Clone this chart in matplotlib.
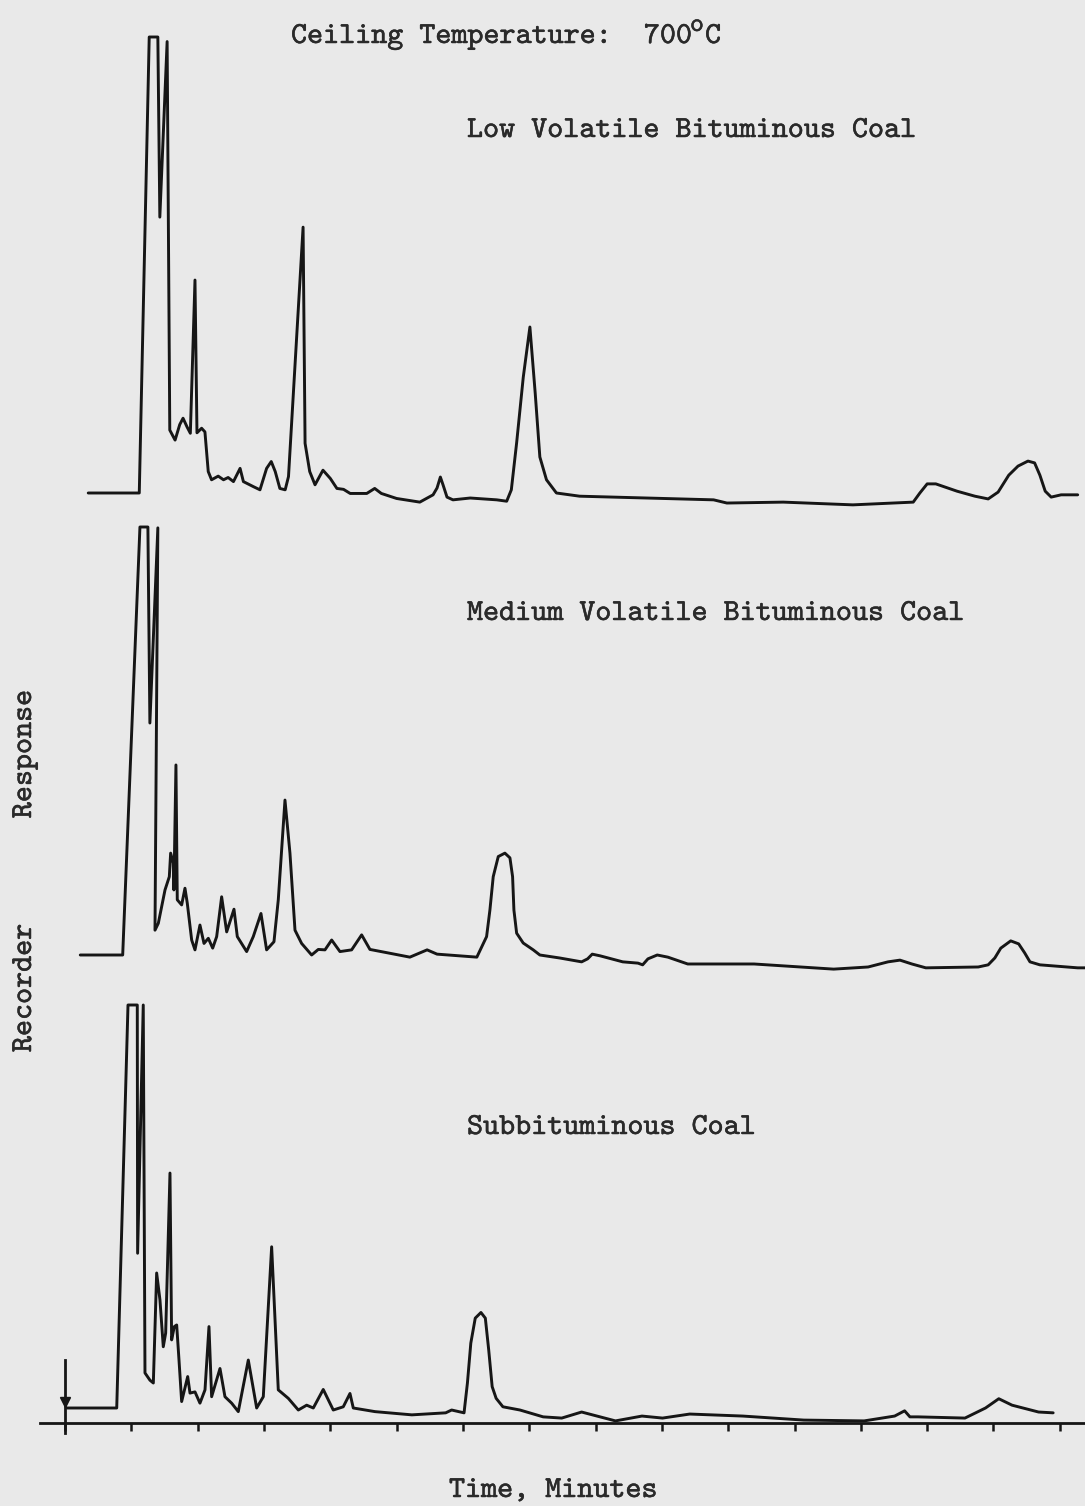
import matplotlib
matplotlib.use("Agg")
import matplotlib.pyplot as plt
import matplotlib.patheffects as pe

# ---------------- data: (time in minutes / chart divisions, response in % of full scale)
lv_points = [
    (0.35, 0), (1.12, 0), (1.27, 100), (1.40, 100), (1.43, 60.5), (1.54, 99), (1.58, 13.8),
    (1.66, 11.6), (1.73, 15.0), (1.78, 16.4), (1.84, 14.5), (1.89, 13.1), (1.96, 46.7),
    (1.99, 13.2), (2.06, 14.2), (2.11, 13.4), (2.16, 4.7), (2.21, 2.9), (2.31, 3.7),
    (2.39, 2.9), (2.46, 3.4), (2.54, 2.5), (2.64, 5.4), (2.69, 2.5), (2.84, 1.4), (2.94, 0.7),
    (3.04, 5.4), (3.11, 6.9), (3.17, 4.7), (3.24, 1.0), (3.32, 0.7), (3.37, 3.6), (3.59, 58.3),
    (3.62, 10.9), (3.69, 4.7), (3.77, 1.8), (3.89, 5.0), (4.00, 3.2), (4.10, 1.0), (4.20, 0.8),
    (4.30, -0.1), (4.55, -0.1), (4.67, 1.0), (4.77, -0.1), (5.00, -1.2), (5.35, -2.0),
    (5.55, -0.4), (5.61, 1.1), (5.66, 3.5), (5.70, 1.8), (5.76, -0.9), (5.85, -1.5),
    (6.11, -1.1), (6.51, -1.5), (6.66, -1.8), (6.73, 0.7), (6.81, 11.0), (6.91, 25.4),
    (7.01, 36.4), (7.09, 21.9), (7.16, 7.9), (7.26, 2.9), (7.41, 0), (7.76, -0.7),
    (9.78, -1.5), (9.98, -2.2), (10.83, -2.0), (11.88, -2.6), (12.79, -2.0), (12.89, 0),
    (13.00, 2.0), (13.13, 2.0), (13.27, 1.3), (13.45, 0.4), (13.72, -0.7), (13.92, -1.3),
    (14.07, 0.2), (14.23, 3.9), (14.37, 5.9), (14.52, 7.0), (14.62, 6.6), (14.70, 3.9),
    (14.78, 0.4), (14.87, -0.9), (15.02, -0.4), (15.27, -0.4)]

mv_points = [
    (0.23, 0), (0.87, 0), (1.13, 100), (1.25, 100), (1.28, 54.2), (1.40, 99.8), (1.357, 5.8),
    (1.407, 7.4), (1.508, 15.2), (1.573, 18.3), (1.593, 23.8), (1.633, 21.5), (1.642, 15.2),
    (1.673, 44.4), (1.693, 12.9), (1.759, 11.7), (1.809, 15.6), (1.844, 12.1), (1.910, 3.5),
    (1.960, 1.2), (2.035, 7.0), (2.096, 2.7), (2.161, 3.9), (2.227, 1.6), (2.287, 4.3),
    (2.362, 13.6), (2.438, 5.4), (2.548, 10.7), (2.598, 4.3), (2.739, 0.8), (2.839, 4.3),
    (2.955, 9.7), (3.040, 1.2), (3.151, 3.1), (3.216, 12.9), (3.317, 36.2), (3.392, 23.8),
    (3.468, 5.8), (3.568, 2.7), (3.719, 0), (3.819, 1.3), (3.920, 1.2), (4.021, 3.5),
    (4.146, 0.8), (4.322, 1.2), (4.473, 4.7), (4.598, 1.3), (4.900, 0.4), (5.20, -0.5),
    (5.46, 1.2), (5.61, 0.2), (6.21, -0.5), (6.357, 4.3), (6.407, 10.5), (6.457, 18.3),
    (6.533, 23.0), (6.633, 23.8), (6.709, 22.7), (6.749, 18.3), (6.769, 10.5), (6.810, 5.1),
    (6.909, 2.8), (7.060, 1.2), (7.16, 0), (7.46, -0.7), (7.79, -1.6), (7.88, -0.9),
    (7.95, 0.2), (8.07, -0.2), (8.41, -1.6), (8.64, -1.9), (8.71, -2.3), (8.79, -0.9),
    (8.93, 0), (9.09, -0.5), (9.39, -2.1), (10.39, -2.1), (11.59, -3.3), (12.11, -2.8),
    (12.41, -1.6), (12.59, -1.2), (12.77, -2.1), (12.98, -3.0), (13.77, -2.8), (13.92, -2.3),
    (14.02, -0.7), (14.11, 1.6), (14.26, 3.3), (14.38, 2.6), (14.47, 0.5), (14.55, -1.6),
    (14.70, -2.3), (15.27, -3.0), (15.38, -3.0)]

sb_points = [
    (0.03, 0), (0.78, 0), (0.95, 100), (1.09, 100), (1.095, 38.4), (1.18, 100), (1.206, 8.7),
    (1.281, 6.9), (1.332, 6.2), (1.382, 33.5), (1.432, 26.8), (1.482, 15.2), (1.518, 18.6),
    (1.583, 58.3), (1.608, 16.9), (1.648, 20.2), (1.684, 20.6), (1.719, 11.9), (1.759, 1.6),
    (1.850, 7.8), (1.885, 3.7), (1.960, 4.0), (2.035, 1.2), (2.111, 4.5), (2.171, 20.2),
    (2.211, 2.8), (2.337, 9.8), (2.412, 2.8), (2.513, 1.2), (2.613, -0.9), (2.764, 11.9),
    (2.890, 0), (2.990, 2.8), (3.116, 40.0), (3.216, 4.5), (3.367, 2.4), (3.518, -0.5),
    (3.644, 0.7), (3.744, 0), (3.894, 4.6), (4.045, -0.5), (4.196, 0.3), (4.297, 3.6),
    (4.347, 0), (4.674, -0.9), (5.23, -1.7), (5.74, -1.2), (5.83, -0.5), (6.017, -1.2),
    (6.068, 6.2), (6.119, 16.1), (6.186, 22.3), (6.272, 23.7), (6.338, 22.3), (6.389, 14.4),
    (6.441, 5.3), (6.501, 2.4), (6.603, 0.3), (6.86, -0.5), (7.21, -2.2), (7.49, -2.5),
    (7.79, -1.0), (8.30, -3.2), (8.70, -2.0), (9.01, -2.5), (9.42, -1.5), (10.22, -2.0),
    (11.14, -3.0), (12.05, -3.2), (12.51, -2.0), (12.66, -0.7), (12.74, -2.2), (12.86, -2.2),
    (13.57, -2.5), (13.88, 0), (14.08, 2.3), (14.28, 0.7), (14.68, -1.0), (14.90, -1.2)]

inj_t = [0.0, 0.0]
inj_r = [11.9, -6.2]
inj_mark_r = 1.5

tick_minutes = list(range(16))

title_text = "Ceiling Temperature:  700"
panel_labels = ["Low Volatile Bituminous Coal",
                "Medium Volatile Bituminous Coal",
                "Subbituminous Coal"]
xlabel = "Time, Minutes"
ylabel_words = ["Response", "Recorder"]

# ---------------- style / layout
W, H = 1085, 1506
BG = "#e9e9e9"
INK = "#161616"
TXT = "#2a2a2a"
FONT = "cmtt10"
FS = 22
XLIM = (-0.98, 15.38)

fig = plt.figure(figsize=(W / 100, H / 100), dpi=100, facecolor=BG)


def panel(base_px, top_px):
    ax = fig.add_axes([0, (H - base_px) / H, 1, (base_px - top_px) / H])
    ax.set_xlim(*XLIM)
    ax.set_ylim(0, 100)
    ax.patch.set_alpha(0)
    for s in ax.spines.values():
        s.set_visible(False)
    ax.set_xticks([])
    ax.set_yticks([])
    return ax


ax1 = panel(493, 37)
ax2 = panel(955, 527)
ax3 = panel(1408, 1005)

for ax, pts in [(ax1, lv_points), (ax2, mv_points), (ax3, sb_points)]:
    t, r = zip(*pts)
    ax.plot(t, r, color=INK, lw=2.1, solid_joinstyle="round", solid_capstyle="round",
            clip_on=False)

# injection marker
ax3.plot(inj_t, inj_r, color=INK, lw=2.0, clip_on=False)
ax3.plot([inj_t[0]], [inj_mark_r], marker="v", ms=7, color=INK, clip_on=False)

# time axis
sp = ax3.spines["bottom"]
sp.set_visible(True)
sp.set_position(("data", -3.7))
sp.set_bounds(-0.38, XLIM[1])
sp.set_linewidth(2.0)
sp.set_color(INK)
ax3.set_xticks(tick_minutes)
ax3.set_xticklabels([])
ax3.tick_params(axis="x", direction="out", length=6, width=1.8, color=INK)

# ---------------- text
STROKE = [pe.withStroke(linewidth=0.35, foreground=TXT)]


def ftext(x_px, y_px, s, **kw):
    kw.setdefault("fontsize", FS)
    kw.setdefault("family", FONT)
    kw.setdefault("color", TXT)
    kw.setdefault("va", "baseline")
    kw.setdefault("ha", "left")
    fig.text(x_px / W, 1 - y_px / H, s, path_effects=STROKE, **kw)


ftext(291, 43, title_text)
ftext(690, 31, "o", fontsize=19)
ftext(705, 43, "C")
ftext(467, 137, panel_labels[0])
ftext(467, 620, panel_labels[1])
ftext(467, 1134, panel_labels[2])
ftext(449, 1497, xlabel)
ftext(25, 754, ylabel_words[0], rotation=90, ha="center", va="center")
ftext(25, 988, ylabel_words[1], rotation=90, ha="center", va="center")

fig.savefig("out.png", dpi=100, facecolor=BG)
